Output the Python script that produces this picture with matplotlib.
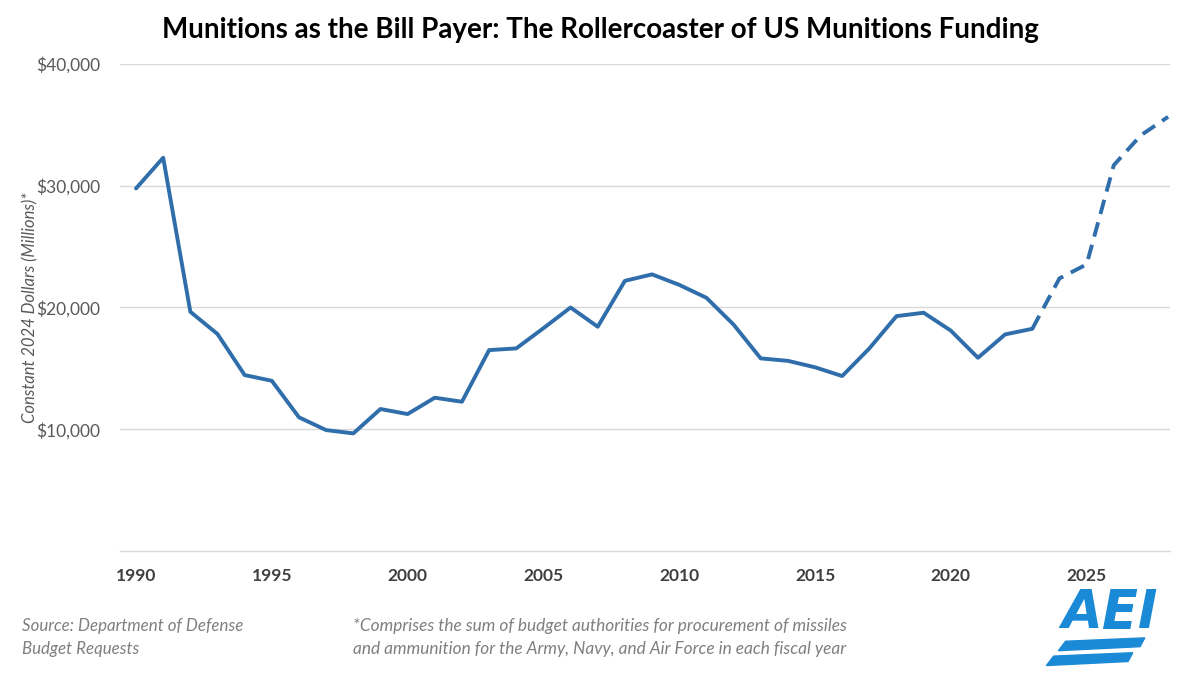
import matplotlib
matplotlib.use("Agg")
import matplotlib.pyplot as plt
from matplotlib.patches import Polygon

years = list(range(1990, 2029))
values = [29780, 32300, 19650, 17820, 14450, 13980, 10980, 9930, 9660, 11660,
          11250, 12590, 12260, 16500, 16640, 18300, 20000, 18420, 22190, 22720,
          21860, 20800, 18600, 15820, 15620, 15090, 14370, 16640, 19290, 19570,
          18100, 15870, 17790, 18250, 22390, 23540, 31690, 34150, 35660]
actual_end = 2023
xtick_years = [1990, 1995, 2000, 2005, 2010, 2015, 2020, 2025]
ytick_vals = [10000, 20000, 30000, 40000]

title = "Munitions as the Bill Payer: The Rollercoaster of US Munitions Funding"
ylabel = "Constant 2024 Dollars (Millions)*"
source = "Source: Department of Defense\nBudget Requests"
note = ("*Comprises the sum of budget authorities for procurement of missiles\n"
        "and ammunition for the Army, Navy, and Air Force in each fiscal year")

plt.rcParams['font.family'] = ['Lato', 'DejaVu Sans']
blue = '#2f6eaa'

fig = plt.figure(figsize=(12, 6.75), dpi=100)
ax = fig.add_axes([0.1, 0.1837, 0.875, 0.7215])

idx = years.index(actual_end)
ax.plot(years[:idx + 1], values[:idx + 1], color=blue, lw=2.8, solid_capstyle='round', zorder=3)
ax.plot(years[idx:], values[idx:], color=blue, lw=2.8, dashes=(3.8, 2.2), zorder=3)

ax.set_xlim(1989.41, 2028.07)
ax.set_ylim(0, 40000)
ax.set_yticks(ytick_vals)
ax.set_yticklabels([f"${v:,.0f}" for v in ytick_vals], color='#595959', fontsize=12.5)
ax.set_xticks(xtick_years)
ax.set_xticklabels([str(y) for y in xtick_years], color='#404040', fontsize=12.5, fontweight='bold')
ax.tick_params(axis='both', length=0)
ax.tick_params(axis='y', pad=14)
ax.tick_params(axis='x', pad=12)
ax.grid(axis='y', color='#d9d9d9', lw=1)
ax.set_axisbelow(True)
for s in ['top', 'right', 'left']:
    ax.spines[s].set_visible(False)
ax.spines['bottom'].set_color('#d9d9d9')
ax.spines['bottom'].set_linewidth(1)

fig.text(0.025, 0.545, ylabel, rotation=90, ha='center', va='center',
         fontsize=12, style='italic', color='#595959')

fig.text(0.5, 0.955, title, ha='center', va='center', fontsize=20, fontweight='bold', color='black')

fig.text(0.018, 0.027, source, ha='left', va='bottom', fontsize=12.2, style='italic',
         color='#7f7f7f', linespacing=1.5)
fig.text(0.294, 0.027, note, ha='left', va='bottom', fontsize=12.4, style='italic',
         color='#7f7f7f', linespacing=1.5)

# AEI logo approximation
logo_blue = '#1b8ad6'
fig.text(0.925, 0.092, "AEI", ha='center', va='center', fontsize=38, fontweight='heavy',
         style='italic', color=logo_blue, family='DejaVu Sans')
for (x0, y0) in [(0.872, 0.014), (0.882, 0.036)]:
    poly = Polygon([(x0, y0), (x0 + 0.068, y0 + 0.006), (x0 + 0.072, y0 + 0.019), (x0 + 0.006, y0 + 0.014)],
                   closed=True, transform=fig.transFigure, color=logo_blue)
    fig.patches.append(poly)

fig.savefig("out.png", dpi=100)
